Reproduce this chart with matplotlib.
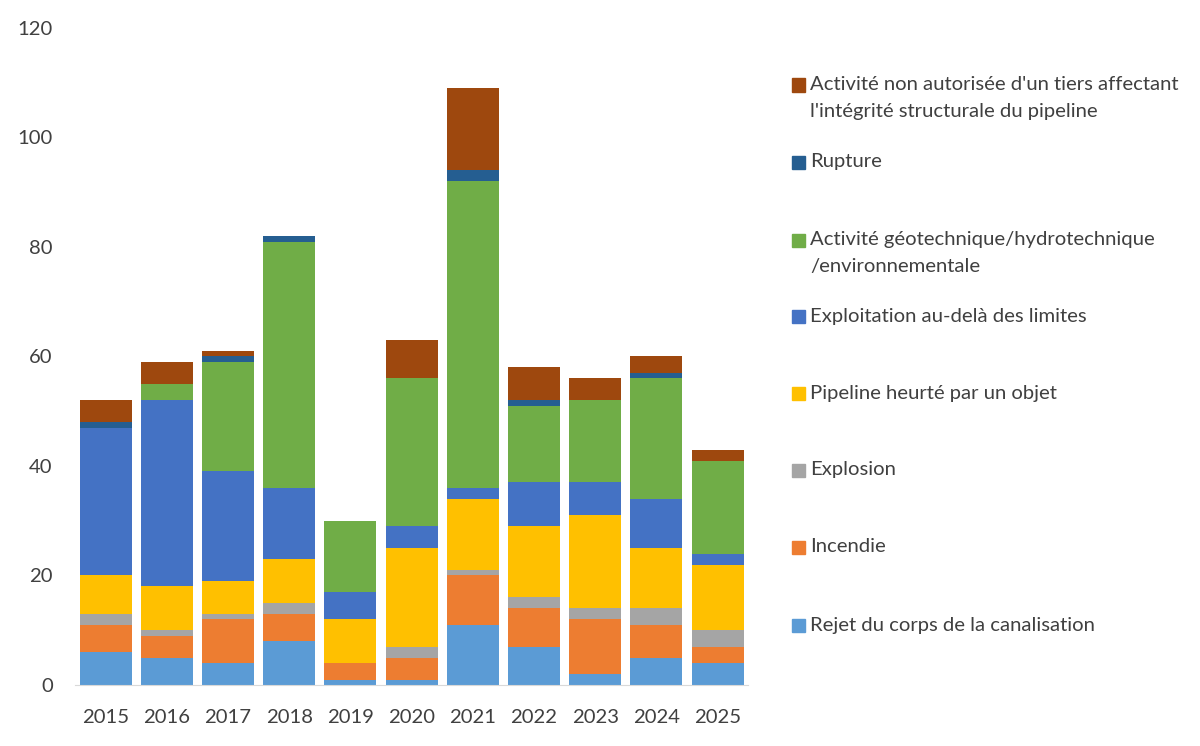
import numpy as np
import matplotlib
matplotlib.use("Agg")
import matplotlib.pyplot as plt
from matplotlib.patches import Rectangle

plt.rcParams["font.family"] = ["Lato", "DejaVu Sans"]

years = ["2015", "2016", "2017", "2018", "2019", "2020", "2021", "2022", "2023", "2024", "2025"]

# stacked bottom -> top
rejet = [6, 5, 4, 8, 1, 1, 11, 7, 2, 5, 4]
incendie = [5, 4, 8, 5, 3, 4, 9, 7, 10, 6, 3]
explosion = [2, 1, 1, 2, 0, 2, 1, 2, 2, 3, 3]
heurte = [7, 8, 6, 8, 8, 18, 13, 13, 17, 11, 12]
exploitation = [27, 34, 20, 13, 5, 4, 2, 8, 6, 9, 2]
geotech = [0, 3, 20, 45, 13, 27, 56, 14, 15, 22, 17]
rupture = [1, 0, 1, 1, 0, 0, 2, 1, 0, 1, 0]
tiers = [4, 4, 1, 0, 0, 7, 15, 6, 4, 3, 2]

series = [
    ("Rejet du corps de la canalisation", rejet, "#5B9BD5"),
    ("Incendie", incendie, "#ED7D31"),
    ("Explosion", explosion, "#A5A5A5"),
    ("Pipeline heurté par un objet", heurte, "#FFC000"),
    ("Exploitation au-delà des limites", exploitation, "#4472C4"),
    ("Activité géotechnique/hydrotechnique\n/environnementale", geotech, "#70AD47"),
    ("Rupture", rupture, "#255E91"),
    ("Activité non autorisée d'un tiers affectant\nl'intégrité structurale du pipeline", tiers, "#9E480E"),
]

FS = 14.6
fig = plt.figure(figsize=(12, 7.46), dpi=100)
ax = fig.add_axes([0.0625, 0.0818, 0.561, 0.8807])

x = np.arange(len(years))
bottom = np.zeros(len(years))
for name, vals, color in series:
    vals = np.array(vals, dtype=float)
    ax.bar(x, vals, bottom=bottom, width=0.85, color=color, linewidth=0)
    bottom += vals

ax.set_xlim(-0.5, len(years) - 0.5)
ax.set_ylim(0, 120)
ax.set_yticks(range(0, 121, 20))
ax.set_xticks(x)
ax.set_xticklabels(years)
for s in ["top", "right", "left"]:
    ax.spines[s].set_visible(False)
ax.spines["bottom"].set_color("#D9D9D9")
ax.tick_params(axis="both", length=0, labelsize=FS, colors="#404040")
ax.tick_params(axis="x", pad=17)
ax.tick_params(axis="y", pad=16)

# legend, drawn by hand to mimic the Excel layout (top entry = last series)
legend_y = [85, 162, 240, 316, 393, 470, 547, 625]
W, H = 1200, 746
for (name, vals, color), yp in zip(series[::-1], legend_y):
    fig.patches.append(Rectangle((792 / W, 1 - (yp + 6.5) / H), 13 / W, 13 / H,
                                 transform=fig.transFigure, color=color, figure=fig))
    for i, line in enumerate(name.split("\n")):
        fig.text(810 / W, 1 - (yp + 26.5 * i) / H, line, fontsize=FS, color="#404040",
                 va="center", ha="left")

fig.savefig("out.png", dpi=100)
